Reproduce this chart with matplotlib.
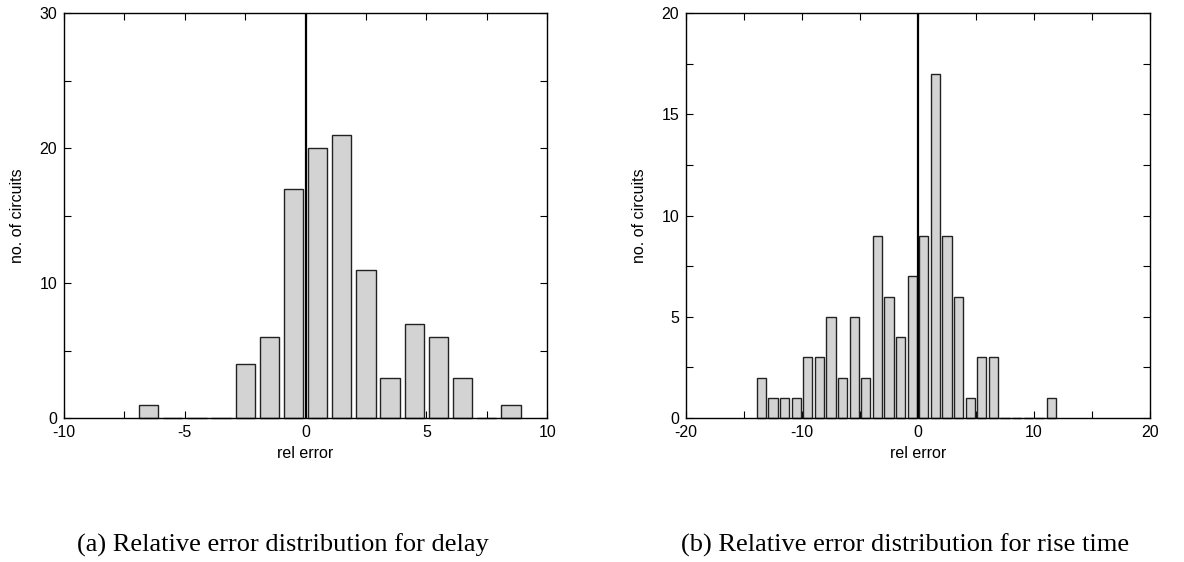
import matplotlib
matplotlib.use('Agg')
import matplotlib.pyplot as plt

# 데이터
delay_centers = [-6.5, -5.5, -4.5, -3.5, -2.5, -1.5, -0.5, 0.5, 1.5, 2.5, 3.5, 4.5, 5.5, 6.5, 7.5, 8.5]
delay_counts = [1, 0, 0, 0, 4, 6, 17, 20, 21, 11, 3, 7, 6, 3, 0, 1]

rise_centers = [-13.5, -12.5, -11.5, -10.5, -9.5, -8.5, -7.5, -6.5, -5.5, -4.5, -3.5, -2.5,
                -1.5, -0.5, 0.5, 1.5, 2.5, 3.5, 4.5, 5.5, 6.5, 7.5, 8.5, 9.5, 10.5, 11.5]
rise_counts = [2, 1, 1, 1, 3, 3, 5, 2, 5, 2, 9, 6, 4, 7, 9, 17, 9, 6, 1, 3, 3, 0, 0, 0, 0, 1]

captions = ['(a) Relative error distribution for delay',
            '(b) Relative error distribution for rise time']

plt.rcParams['font.family'] = ['Liberation Sans', 'DejaVu Sans']
plt.rcParams['axes.unicode_minus'] = False

fig = plt.figure(figsize=(11.84, 5.62), dpi=100)
ax1 = fig.add_axes([0.0541, 0.2562, 0.408, 0.7206])
ax2 = fig.add_axes([0.5794, 0.2562, 0.3919, 0.7206])


def draw_hist(ax, centers, counts, xlim, ylim, xmaj, xmin, ymaj, ymin):
    ax.bar(centers, counts, width=0.8, color='#d3d3d3', edgecolor='#222222',
           linewidth=1.0, zorder=2, clip_on=False)
    ax.axvline(0, color='black', linewidth=1.6, zorder=3)
    ax.set_xlim(*xlim)
    ax.set_ylim(*ylim)
    ax.set_xticks(xmaj)
    ax.set_xticks(xmin, minor=True)
    ax.set_yticks(ymaj)
    ax.set_yticks(ymin, minor=True)
    ax.tick_params(which='both', direction='in', top=True, right=True,
                   length=5, width=0.8, labelsize=11.5, pad=5)
    for s in ax.spines.values():
        s.set_linewidth(1.0)
    ax.set_xlabel('rel error', fontsize=11.5, labelpad=4)
    ax.set_ylabel('no. of circuits', fontsize=11.5, labelpad=10)


draw_hist(ax1, delay_centers, delay_counts, (-10, 10), (0, 30),
          [-10, -5, 0, 5, 10], [-7.5, -2.5, 2.5, 7.5],
          [0, 10, 20, 30], [5, 15, 25])
draw_hist(ax2, rise_centers, rise_counts, (-20, 20), (0, 20),
          [-20, -10, 0, 10, 20], [-15, -5, 5, 15],
          [0, 5, 10, 15, 20], [2.5, 7.5, 12.5, 17.5])

# 캡션
fig.text(283 / 1184, 1 - 552 / 562, captions[0], ha='center', va='baseline',
         fontsize=19, family=['Liberation Serif', 'DejaVu Serif'])
fig.text(905 / 1184, 1 - 552 / 562, captions[1], ha='center', va='baseline',
         fontsize=19, family=['Liberation Serif', 'DejaVu Serif'])

fig.savefig('out.png', dpi=100)
